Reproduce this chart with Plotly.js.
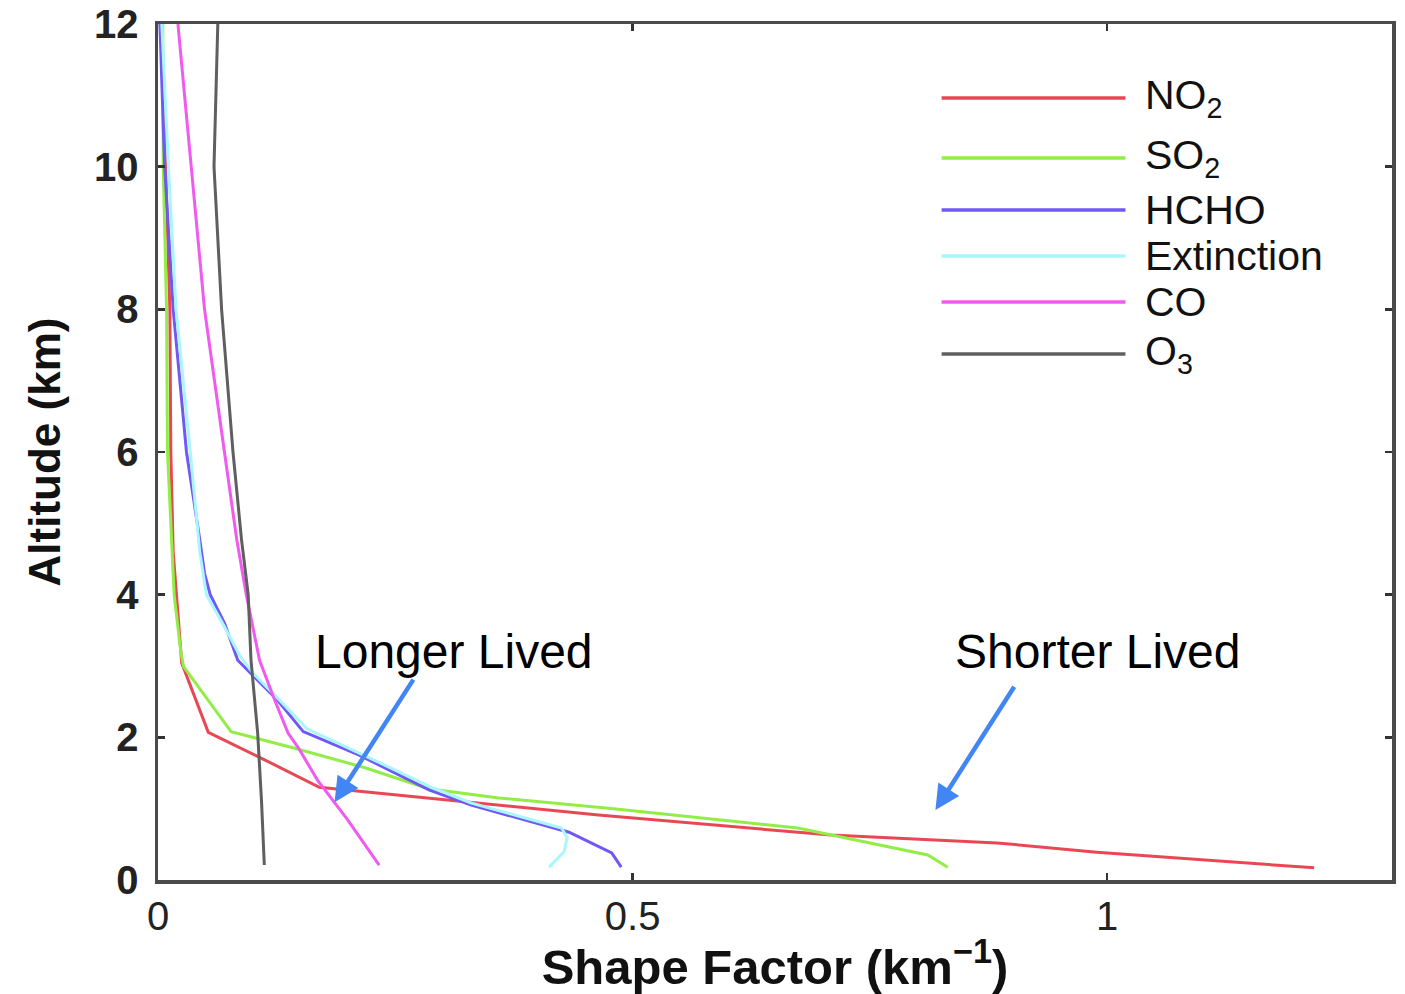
<!DOCTYPE html>
<html>
<head>
<meta charset="utf-8">
<script src="https://cdn.plot.ly/plotly-3.0.1.min.js"></script>
<style>html,body{margin:0;padding:0;background:#fff;}#chart{width:1405px;height:994px;}</style>
</head>
<body>
<div id="chart"></div>
<script>
// ---- Data ----
const seriesNames = ['NO<sub>2</sub>', 'SO<sub>2</sub>', 'HCHO', 'Extinction', 'CO', 'O<sub>3</sub>'];
const seriesColors = ['rgb(232,72,84)', 'rgb(146,238,70)', 'rgb(112,88,245)', 'rgb(170,246,255)', 'rgb(240,90,240)', 'rgb(95,95,95)'];

// Altitude (km) and shape factor (km^-1) for each profile
const altNO2 = [0.17, 0.39, 0.52, 0.63, 0.91, 1.09, 1.30, 1.72, 2.07, 3.04, 4.0, 4.6, 6.0, 8.0, 10.0, 12.0];
const sfNO2  = [1.218, 0.989, 0.884, 0.709, 0.464, 0.33, 0.17, 0.107, 0.053, 0.025, 0.019, 0.016, 0.0135, 0.0125, 0.008, 0.003];

const altSO2 = [0.18, 0.35, 0.73, 1.00, 1.15, 1.28, 1.57, 1.84, 2.08, 2.99, 3.2, 4.0, 6.0, 8.0, 10.0, 12.0];
const sfSO2  = [0.832, 0.811, 0.674, 0.48, 0.359, 0.285, 0.219, 0.146, 0.077, 0.027, 0.024, 0.017, 0.010, 0.009, 0.0055, 0.005];

const altHCHO = [0.18, 0.38, 0.67, 1.05, 1.26, 1.75, 2.08, 2.52, 3.08, 3.6, 4.0, 4.3, 4.77, 6.0, 8.0, 10.0, 12.0];
const sfHCHO  = [0.488, 0.478, 0.433, 0.33, 0.286, 0.212, 0.153, 0.126, 0.084, 0.070, 0.055, 0.049, 0.044, 0.030, 0.016, 0.007, 0.002];

const altExt = [0.18, 0.40, 0.60, 0.73, 1.08, 1.30, 1.78, 2.12, 2.55, 2.90, 3.15, 3.6, 4.0, 4.6, 6.0, 8.0, 10.0, 12.0];
const sfExt  = [0.412, 0.428, 0.431, 0.425, 0.33, 0.288, 0.212, 0.157, 0.126, 0.100, 0.086, 0.068, 0.051, 0.044, 0.034, 0.019, 0.011, 0.004];

const altCO = [0.21, 0.5, 0.84, 1.12, 1.40, 1.85, 2.06, 2.52, 3.08, 4.0, 4.77, 6.0, 8.0, 10.0, 12.0];
const sfCO  = [0.233, 0.218, 0.200, 0.184, 0.168, 0.148, 0.137, 0.123, 0.107, 0.093, 0.083, 0.070, 0.049, 0.035, 0.021];

const altO3 = [0.21, 1.12, 2.06, 2.52, 3.08, 4.0, 4.77, 6.0, 8.0, 10.0, 12.0];
const sfO3  = [0.112, 0.109, 0.105, 0.102, 0.098, 0.095, 0.088, 0.079, 0.067, 0.059, 0.063];

const profileX = [sfNO2, sfSO2, sfHCHO, sfExt, sfCO, sfO3];
const profileY = [altNO2, altSO2, altHCHO, altExt, altCO, altO3];

const xTickVals = [0, 0.5, 1];
const yTickVals = [0, 2, 4, 6, 8, 10, 12];
const annotationTexts = ['Longer Lived', 'Shorter Lived'];

// ---- Build chart ----
const FONT = 'Arial, "Liberation Sans", Helvetica, sans-serif';
const traces = profileX.map((xs, i) => ({
  type: 'scatter', mode: 'lines',
  x: xs, y: profileY[i],
  name: seriesNames[i],
  line: {color: seriesColors[i], width: 3},
  showlegend: false, hoverinfo: 'skip'
}));

// Custom legend (long line samples like the original)
const legendRowsPx = [98, 158, 210, 256, 302, 354];
const plotTop = 24, plotH = 856;
const shapes = [];
const annotations = [];
seriesNames.forEach((nm, i) => {
  const yp = (plotTop + plotH - legendRowsPx[i]) / plotH;
  shapes.push({type: 'line', xref: 'paper', yref: 'paper', x0: 0.635, x1: 0.784, y0: yp, y1: yp,
    line: {color: seriesColors[i], width: 3.5}});
  annotations.push({xref: 'paper', yref: 'paper', x: 0.799, y: yp, xanchor: 'left', yanchor: 'middle',
    text: nm, showarrow: false, borderpad: 0, font: {family: FONT, size: 41, color: '#111'}});
});

// Text labels
annotations.push({xref: 'x', yref: 'y', x: 0.312, y: 3.21, text: annotationTexts[0], showarrow: false,
  font: {family: FONT, size: 48, color: '#000'}});
annotations.push({xref: 'x', yref: 'y', x: 0.990, y: 3.21, text: annotationTexts[1], showarrow: false,
  font: {family: FONT, size: 48, color: '#000'}});
// Arrows
const arrowColor = 'rgb(66,133,244)';
annotations.push({xref: 'x', yref: 'y', axref: 'x', ayref: 'y', x: 0.186, y: 1.09, ax: 0.270, ay: 2.83,
  text: '', showarrow: true, arrowhead: 2, arrowsize: 1.1, arrowwidth: 4.5, arrowcolor: arrowColor});
annotations.push({xref: 'x', yref: 'y', axref: 'x', ayref: 'y', x: 0.819, y: 0.98, ax: 0.903, ay: 2.73,
  text: '', showarrow: true, arrowhead: 2, arrowsize: 1.1, arrowwidth: 4.5, arrowcolor: arrowColor});

const axisCommon = {
  showline: true, mirror: 'ticks', linecolor: '#4a4a4a', linewidth: 3.5,
  ticks: 'inside', ticklen: 7, tickwidth: 2.5, tickcolor: '#333',
  showgrid: false, zeroline: false, fixedrange: true
};

const layout = {
  width: 1405, height: 994,
  margin: {l: 158, r: 13, t: 24, b: 114, pad: 0},
  paper_bgcolor: '#fff', plot_bgcolor: '#fff',
  font: {family: FONT, color: '#111'},
  xaxis: Object.assign({}, axisCommon, {
    range: [0, 1.3], tickvals: xTickVals,
    tickfont: {family: FONT, size: 40, color: '#222'},
    ticklabelstandoff: -2,
    title: {text: '<b>Shape Factor (km<sup>\u22121</sup>)</b>', font: {family: FONT, size: 49, color: '#111'}, standoff: 22}
  }),
  yaxis: Object.assign({}, axisCommon, {
    range: [0, 12], tickvals: yTickVals,
    tickfont: {family: FONT, size: 40, color: '#222', weight: 'bold'},
    ticklabelstandoff: 8,
    title: {text: '<b>Altitude (km)</b>', font: {family: FONT, size: 44, color: '#111'}, standoff: 20}
  }),
  shapes: shapes,
  annotations: annotations,
  showlegend: false
};

Plotly.newPlot('chart', traces, layout, {displayModeBar: false, staticPlot: true});
</script>
</body>
</html>
